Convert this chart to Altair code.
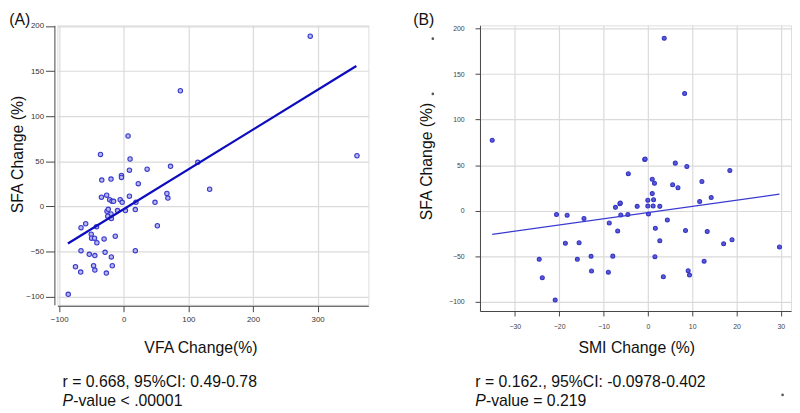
import altair as alt
import pandas as pd

FONT = "Liberation Sans"

# ---------------- Panel A data ----------------
vfa_change = [288.5, 87.5, 360.8, 6.6, -36.1, 9.7, 8.7, 36.1, 72.3, 114.5,
              -34.1, -19.8, -3.6, -3.6, 22.4, 132.8, -34.6, -26.5, 8.7, 66.7,
              68.2, -21.9, -18.3, -15.8, -5.6, -2.5, 18.8, 48.3, -26.0, -24.0,
              -9.7, 2.5, 17.8, -19.8, -24.9, -19.3, 51.9, -59.0, -66.2, -42.2,
              -50.4, -49.9, -45.3, -30.5, -13.2, -41.7, -66.2, 17.8, -29.0, -53.4,
              -44.8, -19.3, -74.8, -46.8, -17.8, -66.7, -44.8, -27.0, -86.0]
sfa_change_a = [188.7, 128.2, 56.1, 78.0, 57.6, 52.5, 40.1, 41.2, 44.4, 48.8,
                29.1, 30.2, 34.2, 32.1, 25.1, 18.9, 10.2, 12.4, 11.3, 14.2,
                9.1, 7.3, 5.5, 5.5, 7.3, 4.4, 4.4, 4.4, -5.5, -3.3,
                -4.7, -4.7, -3.6, -8.4, -10.9, -13.5, -21.5, -19.3, -23.7, -22.6,
                -31.0, -35.3, -35.3, -36.1, -33.2, -40.4, -49.2, -49.2, -51.0, -53.2,
                -54.6, -56.1, -67.0, -65.9, -65.9, -72.9, -70.7, -74.0, -97.6]
fit_a_x = [-86.5, 359.8]
fit_a_y = [-41.2, 155.6]
xticks_a = [-100, 0, 100, 200, 300]
yticks = [-100, -50, 0, 50, 100, 150, 200]

# ---------------- Panel B data ----------------
smi_change = [3.7, 8.3, -35.1, -0.7, -0.6, 6.2, 8.8, 18.5, -4.4, 1.0,
              1.5, 5.6, 6.8, 12.2, 1.0, 14.3, 0.0, 1.3, 11.7, -6.3,
              -6.2, -7.3, -2.4, 0.0, 1.2, 2.7, 0.15, -6.1, -4.5, -20.6,
              -18.2, -14.4, -8.7, 4.4, 1.7, -6.8, 8.5, 13.4, -18.6, -15.5,
              2.7, 17.1, 19.0, 29.7, -24.5, -15.9, -12.8, -7.9, 1.6, 12.7,
              -12.7, -8.9, 9.1, 9.4, 3.5, -23.8, -20.9]
sfa_change_b = [189.4, 128.7, 77.3, 56.1, 56.8, 52.2, 48.6, 44.2, 40.6, 34.5,
                30.2, 28.4, 25.2, 32.0, 18.7, 14.4, 11.5, 11.9, 10.1, 7.6,
                8.3, 3.6, 4.7, 5.0, 5.0, 4.7, -3.6, -4.7, -4.3, -4.3,
                -5.0, -8.7, -13.6, -10.4, -19.4, -22.3, -21.8, -23.0, -35.8, -35.4,
                -33.0, -36.5, -32.0, -40.0, -53.5, -53.5, -50.2, -50.0, -50.6, -55.6,
                -66.3, -67.6, -66.0, -70.8, -72.6, -73.7, -98.3]
fit_b_x = [-35.1, 29.7]
fit_b_y = [-26.0, 18.1]
xticks_b = [-30, -20, -10, 0, 10, 20, 30]
stray_b_x = [-48.5, -48.5, 30.4]
stray_b_y = [189.0, 128.3, -202.5]

# ---------------- texts ----------------
panel_labels = ["(A)", "(B)"]
x_titles = ["VFA Change(%)", "SMI Change (%)"]
y_title = "SFA Change (%)"
stat_lines = ["r = 0.668, 95%CI: 0.49-0.78", "r = 0.162., 95%CI: -0.0978-0.402"]
p_prefix = "P"
p_rest = ["-value < .00001", "-value = 0.219"]


def text_layer(txt, x, y, size=16, style="normal", align="left", baseline="middle"):
    return alt.Chart(pd.DataFrame({"t": [txt]})).mark_text(
        align=align, baseline=baseline, fontSize=size, font=FONT,
        fontStyle=style, color="#111"
    ).encode(x=alt.value(x), y=alt.value(y), text="t:N")


def panel(xv, yv, fx, fy, xdom, ydom, w, h, xticks, xtitle, idx, cfg):
    df = pd.DataFrame({"x": xv, "y": yv})
    fit = pd.DataFrame({"x": fx, "y": fy})
    xs = alt.Scale(domain=xdom, nice=False, zero=False)
    ys = alt.Scale(domain=ydom, nice=False, zero=False)
    xaxis = alt.Axis(values=xticks, title=xtitle, grid=True, gridColor="#dadada",
                     gridWidth=1.2, tickSize=cfg["xtick"], offset=cfg["xoff"],
                     labelPadding=cfg["xlabpad"], labelFontSize=cfg["lab"],
                     labelColor=cfg["labcol"], labelFont=FONT, labelFlush=False,
                     labelOverlap=False, tickColor="#444", domainColor="#444",
                     domain=cfg["domain"], titleFont=FONT, titleFontSize=16,
                     titleFontWeight="normal", titleColor="#111",
                     titleX=cfg["xtx"], titleY=cfg["xty"], titleBaseline="middle",
                     titleAlign="center")
    yaxis = alt.Axis(values=yticks, title=y_title, grid=True, gridColor="#dadada",
                     gridWidth=1.2, tickSize=cfg["ytick"], offset=cfg["yoff"],
                     labelPadding=cfg["ylabpad"], labelFontSize=cfg["lab"],
                     labelColor=cfg["labcol"], labelFont=FONT, labelFlush=False,
                     labelOverlap=False, tickColor="#444", domainColor="#444",
                     domain=cfg["domain"], titleFont=FONT, titleFontSize=16,
                     titleFontWeight="normal", titleColor="#111", titleAngle=270,
                     titleX=cfg["ytx"], titleY=cfg["yty"], titleBaseline="middle",
                     titleAlign="center")
    pts = alt.Chart(df).mark_point(
        shape="circle", filled=True, size=cfg["psize"], fill=cfg["pfill"],
        stroke=cfg["pstroke"], strokeWidth=1.1, opacity=1, clip=True
    ).encode(x=alt.X("x:Q", scale=xs, axis=xaxis), y=alt.Y("y:Q", scale=ys, axis=yaxis))
    line = alt.Chart(fit).mark_line(color=cfg["lcol"], strokeWidth=cfg["lw"]).encode(
        x=alt.X("x:Q", scale=xs), y=alt.Y("y:Q", scale=ys))
    layers = [pts, line,
              text_layer(panel_labels[idx], cfg["plx"], cfg["ply"], baseline="top"),
              text_layer(stat_lines[idx], cfg["sx"], cfg["sy1"]),
              text_layer(p_prefix, cfg["sx"], cfg["sy2"], style="italic"),
              text_layer(p_rest[idx], cfg["sx"] + 10.7, cfg["sy2"])]
    if idx == 1:
        stray = pd.DataFrame({"x": stray_b_x, "y": stray_b_y})
        layers.append(alt.Chart(stray).mark_point(
            shape="circle", filled=True, size=7, color="#555", opacity=1
        ).encode(x=alt.X("x:Q", scale=xs), y=alt.Y("y:Q", scale=ys)))
    return alt.layer(*layers).properties(width=w, height=h)


cfg_a = dict(xtick=6, xoff=1, xlabpad=4, ytick=9, yoff=3, ylabpad=2, lab=8,
             labcol="#333", domain=True, xtx=144.9, xty=42.3, ytx=-37.7, yty=130.3,
             psize=20, pfill="#b4b4f0", pstroke="#3a3acb", lcol="#0d0dbf", lw=2.3,
             plx=-48.7, ply=-13.7, sx=5.3, sy1=361.3, sy2=380.3)
cfg_b = dict(xtick=5, xoff=0, xlabpad=7, ytick=5, yoff=0, ylabpad=11, lab=7,
             labcol="#444", domain=True, xtx=158.3, xty=37.0, ytx=-53.7, yty=137.3,
             psize=16, pfill="#5a5ad6", pstroke="#3535c4", lcol="#3a3ad0", lw=1.3,
             plx=-67.7, ply=-13.7, sx=-4.7, sy1=361.3, sy2=380.3)

chart_a = panel(vfa_change, sfa_change_a, fit_a_x, fit_a_y, [-102.8, 378.5],
                [-109.2, 200.7], 315, 283, xticks_a, x_titles[0], 0, cfg_a)
chart_b = panel(smi_change, sfa_change_b, fit_b_x, fit_b_y, [-37.86, 32.3],
                [-110.3, 203.6], 315, 289.3, xticks_b, x_titles[1], 1, cfg_b)

chart = alt.hconcat(chart_a, chart_b, spacing=43).properties(
    padding={"left": 0, "top": 0, "right": 0, "bottom": 0}
).configure_view(stroke="#444", strokeWidth=1.3).configure(background="white")

chart.save("out.html", embed_options={"renderer": "svg", "actions": False})
